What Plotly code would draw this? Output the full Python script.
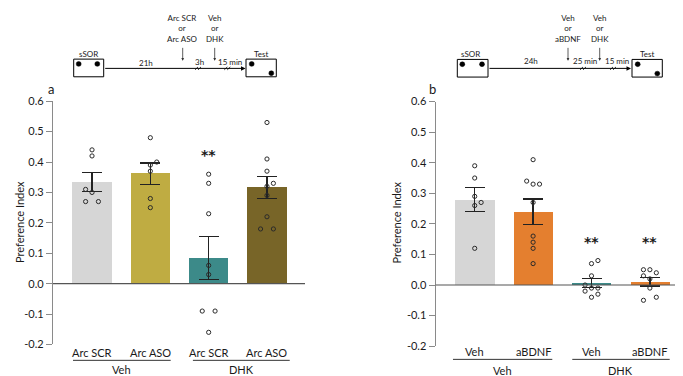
import plotly.graph_objects as go

W, H = 683, 376

# ---------------- data ----------------
# Panel a
a_categories = ["Arc SCR", "Arc ASO", "Arc SCR", "Arc ASO"]
a_groups = ["Veh", "DHK"]
a_means = [0.335, 0.362, 0.084, 0.316]
a_sem = [0.031, 0.035, 0.071, 0.037]
a_pts_1 = [0.44, 0.42, 0.31, 0.30, 0.27, 0.27]
a_pts_2 = [0.48, 0.40, 0.39, 0.37, 0.28, 0.25]
a_pts_3 = [0.36, 0.33, 0.23, 0.06, 0.03, -0.09, -0.09, -0.16]
a_pts_4 = [0.53, 0.41, 0.37, 0.33, 0.32, 0.29, 0.22, 0.18, 0.18]

# Panel b
b_categories = ["Veh", "aBDNF", "Veh", "aBDNF"]
b_groups = ["Veh", "DHK"]
b_means = [0.279, 0.240, 0.007, 0.011]
b_sem = [0.039, 0.041, 0.015, 0.014]
b_pts_1 = [0.39, 0.35, 0.29, 0.27, 0.26, 0.12]
b_pts_2 = [0.41, 0.34, 0.33, 0.33, 0.27, 0.16, 0.14, 0.12, 0.07]
b_pts_3 = [0.08, 0.07, 0.03, 0.00, -0.01, -0.01, -0.02, -0.03, -0.04]
b_pts_4 = [0.05, 0.05, 0.04, 0.03, 0.02, -0.01, -0.04, -0.05]

y_ticks = [-0.2, -0.1, 0.0, 0.1, 0.2, 0.3, 0.4, 0.5, 0.6]
y_ticktext = ["-0.2", "-0.1", "0.0", "0.1", "0.2", "0.3", "0.4", "0.5", "0.6"]

# ---------------- layout helpers (positions / styles) ----------------
a_offsets = [[0, 0, -1, 0, -1, 1],
             [0, 1, 0, 0, 0, 0],
             [0, 0, 0, 0, 0, -1, 1, 0],
             [0, 0, 0, 1, 0, 0, 0, -1, 1]]
b_offsets = [[0, 0, 0, 1, 0, 0],
             [0, -1, 0, 1, 0, 0, 0, 0, 0],
             [1, 0, 0, -1, 0, 1, -1, 1, 0],
             [-1, 0, 1, -1, 0, 0, 1, -1]]
JIT = 0.11

a_colors = ["#d6d6d6", "#bfac42", "#3c8a89", "#786528"]
b_colors = ["#d6d6d6", "#e47f2f", "#3c8a89", "#e47f2f"]

FONT = "Lato"
TXT = "#1a1a1a"
AXC = "#8a8a8a"


def px(x):
    return x / W


def py(y):
    return 1 - y / H


fig = go.Figure()

panels = [
    ("x", "y", a_means, a_sem, [a_pts_1, a_pts_2, a_pts_3, a_pts_4], a_offsets, a_colors),
    ("x2", "y2", b_means, b_sem, [b_pts_1, b_pts_2, b_pts_3, b_pts_4], b_offsets, b_colors),
]

for xa, ya, means, sem, pts, offs, cols in panels:
    fig.add_trace(go.Bar(
        x=list(range(len(means))), y=means, xaxis=xa, yaxis=ya,
        marker=dict(color=cols, line=dict(width=0)), width=0.67,
        error_y=dict(type="data", array=sem, visible=True, color="#222222",
                     thickness=1.3, width=10),
        showlegend=False, hoverinfo="skip"))
    for i, (vals, o) in enumerate(zip(pts, offs)):
        fig.add_trace(go.Scatter(
            x=[i + JIT * k for k in o], y=vals, xaxis=xa, yaxis=ya, mode="markers",
            marker=dict(symbol="circle-open", size=4.2, color="#2a2a2a",
                        line=dict(width=1, color="#2a2a2a")),
            showlegend=False, hoverinfo="skip"))

yax_common = dict(range=[-0.2, 0.6], tickvals=y_ticks, ticktext=y_ticktext,
                  showline=True, linecolor=AXC, linewidth=1.3, ticks="outside",
                  ticklen=6, tickwidth=1.3, tickcolor=AXC, showgrid=False,
                  zeroline=False, tickfont=dict(family=FONT, size=11, color=TXT))

fig.update_layout(
    width=W, height=H, autosize=False,
    margin=dict(l=0, r=0, t=0, b=0),
    paper_bgcolor="white", plot_bgcolor="white",
    bargap=0,
    xaxis=dict(domain=[px(45), px(297)], range=[-0.669, 3.652], visible=False,
               anchor="y"),
    yaxis=dict(domain=[py(341.3), py(89.3)], anchor="x", **yax_common),
    xaxis2=dict(domain=[px(427.7), px(683)], range=[-0.668, 3.704], visible=False,
                anchor="y2"),
    yaxis2=dict(domain=[py(343), py(89.7)], anchor="x2", **yax_common),
)

shapes = []
annotations = []

# zero lines
for xa, ya in [("x", "y"), ("x2", "y2")]:
    shapes.append(dict(type="line", xref=f"{xa} domain", yref=ya, x0=0, x1=1,
                       y0=0, y1=0, line=dict(color="#555555", width=1.2)))


def label(text, x, y, size=11, xref="paper", **kw):
    annotations.append(dict(text=text, x=x, y=y, xref=xref, yref="paper",
                            showarrow=False, xanchor="center", yanchor="middle",
                            borderpad=0,
                            font=dict(family=FONT, size=size, color=TXT), **kw))


# category labels, brackets and group labels
label_rows = [
    ("x", a_categories, a_groups, 349.3, 357.7, 367.0,
     [(-0.326, 1.349), (1.73, 3.39)]),
    ("x2", b_categories, b_groups, 348.3, 356.7, 368.0,
     [(-0.372, 1.329), (1.671, 3.339)]),
]
for xa, cats, groups, ycat, ybr, ygrp, spans in label_rows:
    for i, c in enumerate(cats):
        label(c, i, py(ycat), size=11, xref=xa)
    for g, (s0, s1) in zip(groups, spans):
        shapes.append(dict(type="line", xref=xa, yref="paper", x0=s0, x1=s1,
                           y0=py(ybr), y1=py(ybr), line=dict(color="#333333", width=1)))
        label(g, (s0 + s1) / 2, py(ygrp), size=11, xref=xa)

# y-axis titles
for xpos in [11.5, 389]:
    label("Preference Index", px(xpos), py(215), size=11, textangle=-90)

# significance
for xa, xi, yv in [("x", 2, 0.433), ("x2", 2, 0.15), ("x2", 3, 0.15)]:
    ya = "y" if xa == "x" else "y2"
    annotations.append(dict(text="<b>**</b>", x=xi, y=yv, xref=xa, yref=ya,
                            showarrow=False, xanchor="center", yanchor="middle",
                            yshift=-3,
                            font=dict(family="DejaVu Sans", size=14, color=TXT)))

# panel letters
label("a", px(42.5), py(77), size=13)
label("b", px(424.3), py(77), size=13)


# ---------------- schematic timelines ----------------
def box(x0, x1, y0, y1):
    shapes.append(dict(type="rect", xref="paper", yref="paper", x0=px(x0), x1=px(x1),
                       y0=py(y1), y1=py(y0), line=dict(color="black", width=1),
                       fillcolor="white"))


def dot(x, y, r=2.5):
    shapes.append(dict(type="circle", xref="paper", yref="paper",
                       x0=px(x - r), x1=px(x + r), y0=py(y + r), y1=py(y - r),
                       line=dict(color="black", width=0.5), fillcolor="black"))


def hline_arrow(x0, x1, y):
    annotations.append(dict(text="", x=px(x1), y=py(y), xref="paper", yref="paper",
                            ax=-(x1 - x0), ay=0, axref="pixel", ayref="pixel",
                            showarrow=True, arrowhead=2, arrowsize=0.9,
                            arrowwidth=1, arrowcolor="black", standoff=0))


def down_arrow(x, y0, y1):
    annotations.append(dict(text="", x=px(x), y=py(y1), xref="paper", yref="paper",
                            ax=0, ay=-(y1 - y0), axref="pixel", ayref="pixel",
                            showarrow=True, arrowhead=2, arrowsize=0.7,
                            arrowwidth=0.8, arrowcolor="#333333", standoff=0))


def brk(x, y):
    for d in (-1.5, 1.5):
        shapes.append(dict(type="line", xref="paper", yref="paper",
                           x0=px(x + d - 1.5), y0=py(y + 1.5),
                           x1=px(x + d + 1.5), y1=py(y - 1.5),
                           line=dict(color="black", width=0.8)))


SMALL = 8

# panel a schematic
box(65.7, 95.7, 45.7, 64)
dot(70.7, 50.7)
dot(89.3, 50.7)
hline_arrow(95.7, 237.5, 55.3)
box(238, 268.3, 45.7, 64)
dot(243.7, 50.7)
dot(263.3, 60.3)
brk(190, 55.3)
brk(219.3, 55.3)
down_arrow(174.7, 33, 47.5)
down_arrow(206.7, 33, 47.5)
label("sSOR", px(80.7), py(40.5), size=SMALL)
label("Test", px(253.3), py(40.5), size=SMALL)
label("21h", px(138), py(49.3), size=SMALL)
label("3h", px(191.7), py(48.3), size=SMALL)
label("15 min", px(222.3), py(48.3), size=SMALL)
label("Arc SCR<br>or<br>Arc ASO", px(174.7), py(14.5), size=SMALL)
label("Veh<br>or<br>DHK", px(206.7), py(14.5), size=SMALL)

# panel b schematic
box(449.3, 480, 46, 64.3)
dot(454.3, 51)
dot(474, 51)
hline_arrow(480, 623, 55.3)
box(624, 654.3, 46, 64.3)
dot(629.7, 51)
dot(649.3, 60.7)
brk(575, 55.3)
brk(605, 55.3)
down_arrow(560, 33, 47.5)
down_arrow(591.7, 33, 47.5)
label("sSOR", px(462.7), py(40.5), size=SMALL)
label("Test", px(639), py(40.5), size=SMALL)
label("24h", px(522.7), py(47.5), size=SMALL)
label("25 min", px(577), py(47.5), size=SMALL)
label("15 min", px(609), py(47.5), size=SMALL)
label("Veh<br>or<br>aBDNF", px(560), py(14.5), size=SMALL)
label("Veh<br>or<br>DHK", px(591.7), py(14.5), size=SMALL)

fig.update_layout(shapes=shapes, annotations=annotations)

fig.write_html("out.html")
